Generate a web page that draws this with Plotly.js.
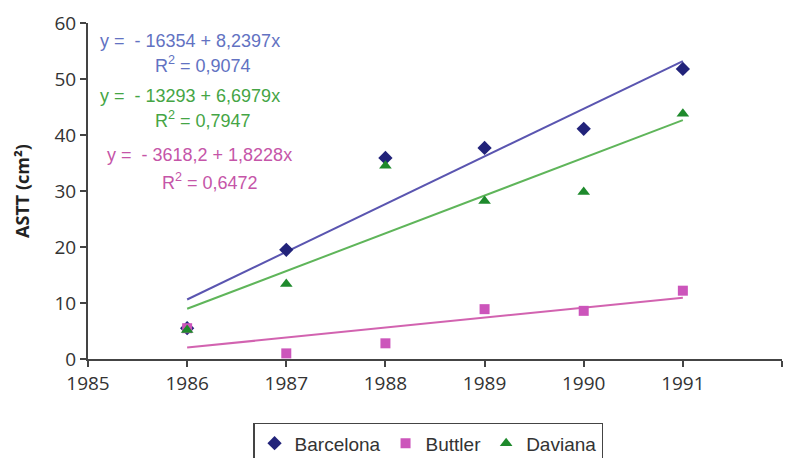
<!DOCTYPE html>
<html>
<head>
<meta charset="utf-8">
<script src="https://cdn.plot.ly/plotly-3.0.1.min.js"></script>
<style>html,body{margin:0;padding:0;background:#fff;overflow:hidden;}#chart{width:803px;height:478px;}</style>
</head>
<body>
<div id="chart"></div>
<script>
const years = [1986, 1987, 1988, 1989, 1990, 1991];
const barcelona = [5.5, 19.5, 35.9, 37.7, 41.1, 51.8];
const buttler = [5.5, 1.0, 2.8, 8.9, 8.6, 12.2];
const daviana = [5.2, 13.4, 34.5, 28.2, 29.8, 43.8];
const eqLabels = ["y =&nbsp; - 16354 + 8,2397x", "R<sup>2</sup> = 0,9074",
                  "y =&nbsp; - 13293 + 6,6979x", "R<sup>2</sup> = 0,7947",
                  "y =&nbsp; - 3618,2 + 1,8228x", "R<sup>2</sup> = 0,6472"];

function fit(xs, ys) {
  const n = xs.length;
  const mx = xs.reduce((a,b)=>a+b,0)/n, my = ys.reduce((a,b)=>a+b,0)/n;
  let sxy = 0, sxx = 0;
  for (let i=0;i<n;i++){ sxy += (xs[i]-mx)*(ys[i]-my); sxx += (xs[i]-mx)**2; }
  const b = sxy/sxx, a = my - b*mx;
  const x0 = xs[0], x1 = xs[n-1];
  return {x:[x0,x1], y:[a+b*x0, a+b*x1]};
}

const fb = fit(years, barcelona), fu = fit(years, buttler), fd = fit(years, daviana);

const traces = [
  {x: fb.x, y: fb.y, mode:'lines', line:{color:'#5a55b0', width:2}, showlegend:false, hoverinfo:'skip'},
  {x: fd.x, y: fd.y, mode:'lines', line:{color:'#5fb55a', width:2}, showlegend:false, hoverinfo:'skip'},
  {x: fu.x, y: fu.y, mode:'lines', line:{color:'#d263b0', width:2}, showlegend:false, hoverinfo:'skip'},
  {x: years, y: barcelona, name:'Barcelona', mode:'markers', marker:{symbol:'diamond', size:11, color:'#22237a'}},
  {x: years, y: buttler, name:'Buttler', mode:'markers', marker:{symbol:'square', size:10, color:'#cc55bb'}},
  {x: years, y: daviana, name:'Daviana', mode:'markers', marker:{symbol:'triangle-up', size:11, color:'#1e8a2c'}}
];

const eqColors = ['#6272c2', '#6272c2', '#45a545', '#45a545', '#c555a8', '#c555a8'];
const eqX = [98, 153, 98, 153, 105, 160];
const eqY = [41, 64, 96, 119, 155, 181];
const annotations = eqLabels.map((t,i)=>({
  text: t, xref:'paper', yref:'paper',
  x: (eqX[i]-88)/694, y: (359-eqY[i])/336,
  xanchor:'left', yanchor:'middle', showarrow:false,
  font:{family:'Liberation Sans, Arial, sans-serif', size:18, color:eqColors[i]}
}));

const layout = {
  width: 803, height: 478,
  margin: {l:88, r:21, t:23, b:119},
  paper_bgcolor:'#fff', plot_bgcolor:'#fff',
  showlegend: true,
  legend: {orientation:'h', x:0.49, xanchor:'center', y:-0.19, yanchor:'top',
           bordercolor:'#444', borderwidth:1.5,
           font:{family:'Liberation Sans, Arial, sans-serif', size:19, color:'#333'},
           itemwidth:30, tracegroupgap:0},
  xaxis: {range:[1985,1992], dtick:1, tick0:1985, showgrid:false, zeroline:false,
          showline:true, linecolor:'#444', linewidth:2, ticks:'outside', ticklen:6, tickcolor:'#444', tickwidth:2,
          tickfont:{family:'Open Sans, sans-serif', size:19, color:'#333'}},
  yaxis: {range:[0,60], dtick:10, showgrid:false, zeroline:false,
          showline:true, linecolor:'#444', linewidth:2, ticks:'outside', ticklen:6, tickcolor:'#444', tickwidth:2,
          tickfont:{family:'Open Sans, sans-serif', size:19, color:'#333'},
          title:{text:'<b>ASTT (cm²)</b>', standoff:20, font:{family:'Open Sans, sans-serif', size:18, color:'#222'}}},
  annotations: annotations
};

Plotly.newPlot('chart', traces, layout, {displayModeBar:false, staticPlot:true});
</script>
</body>
</html>
